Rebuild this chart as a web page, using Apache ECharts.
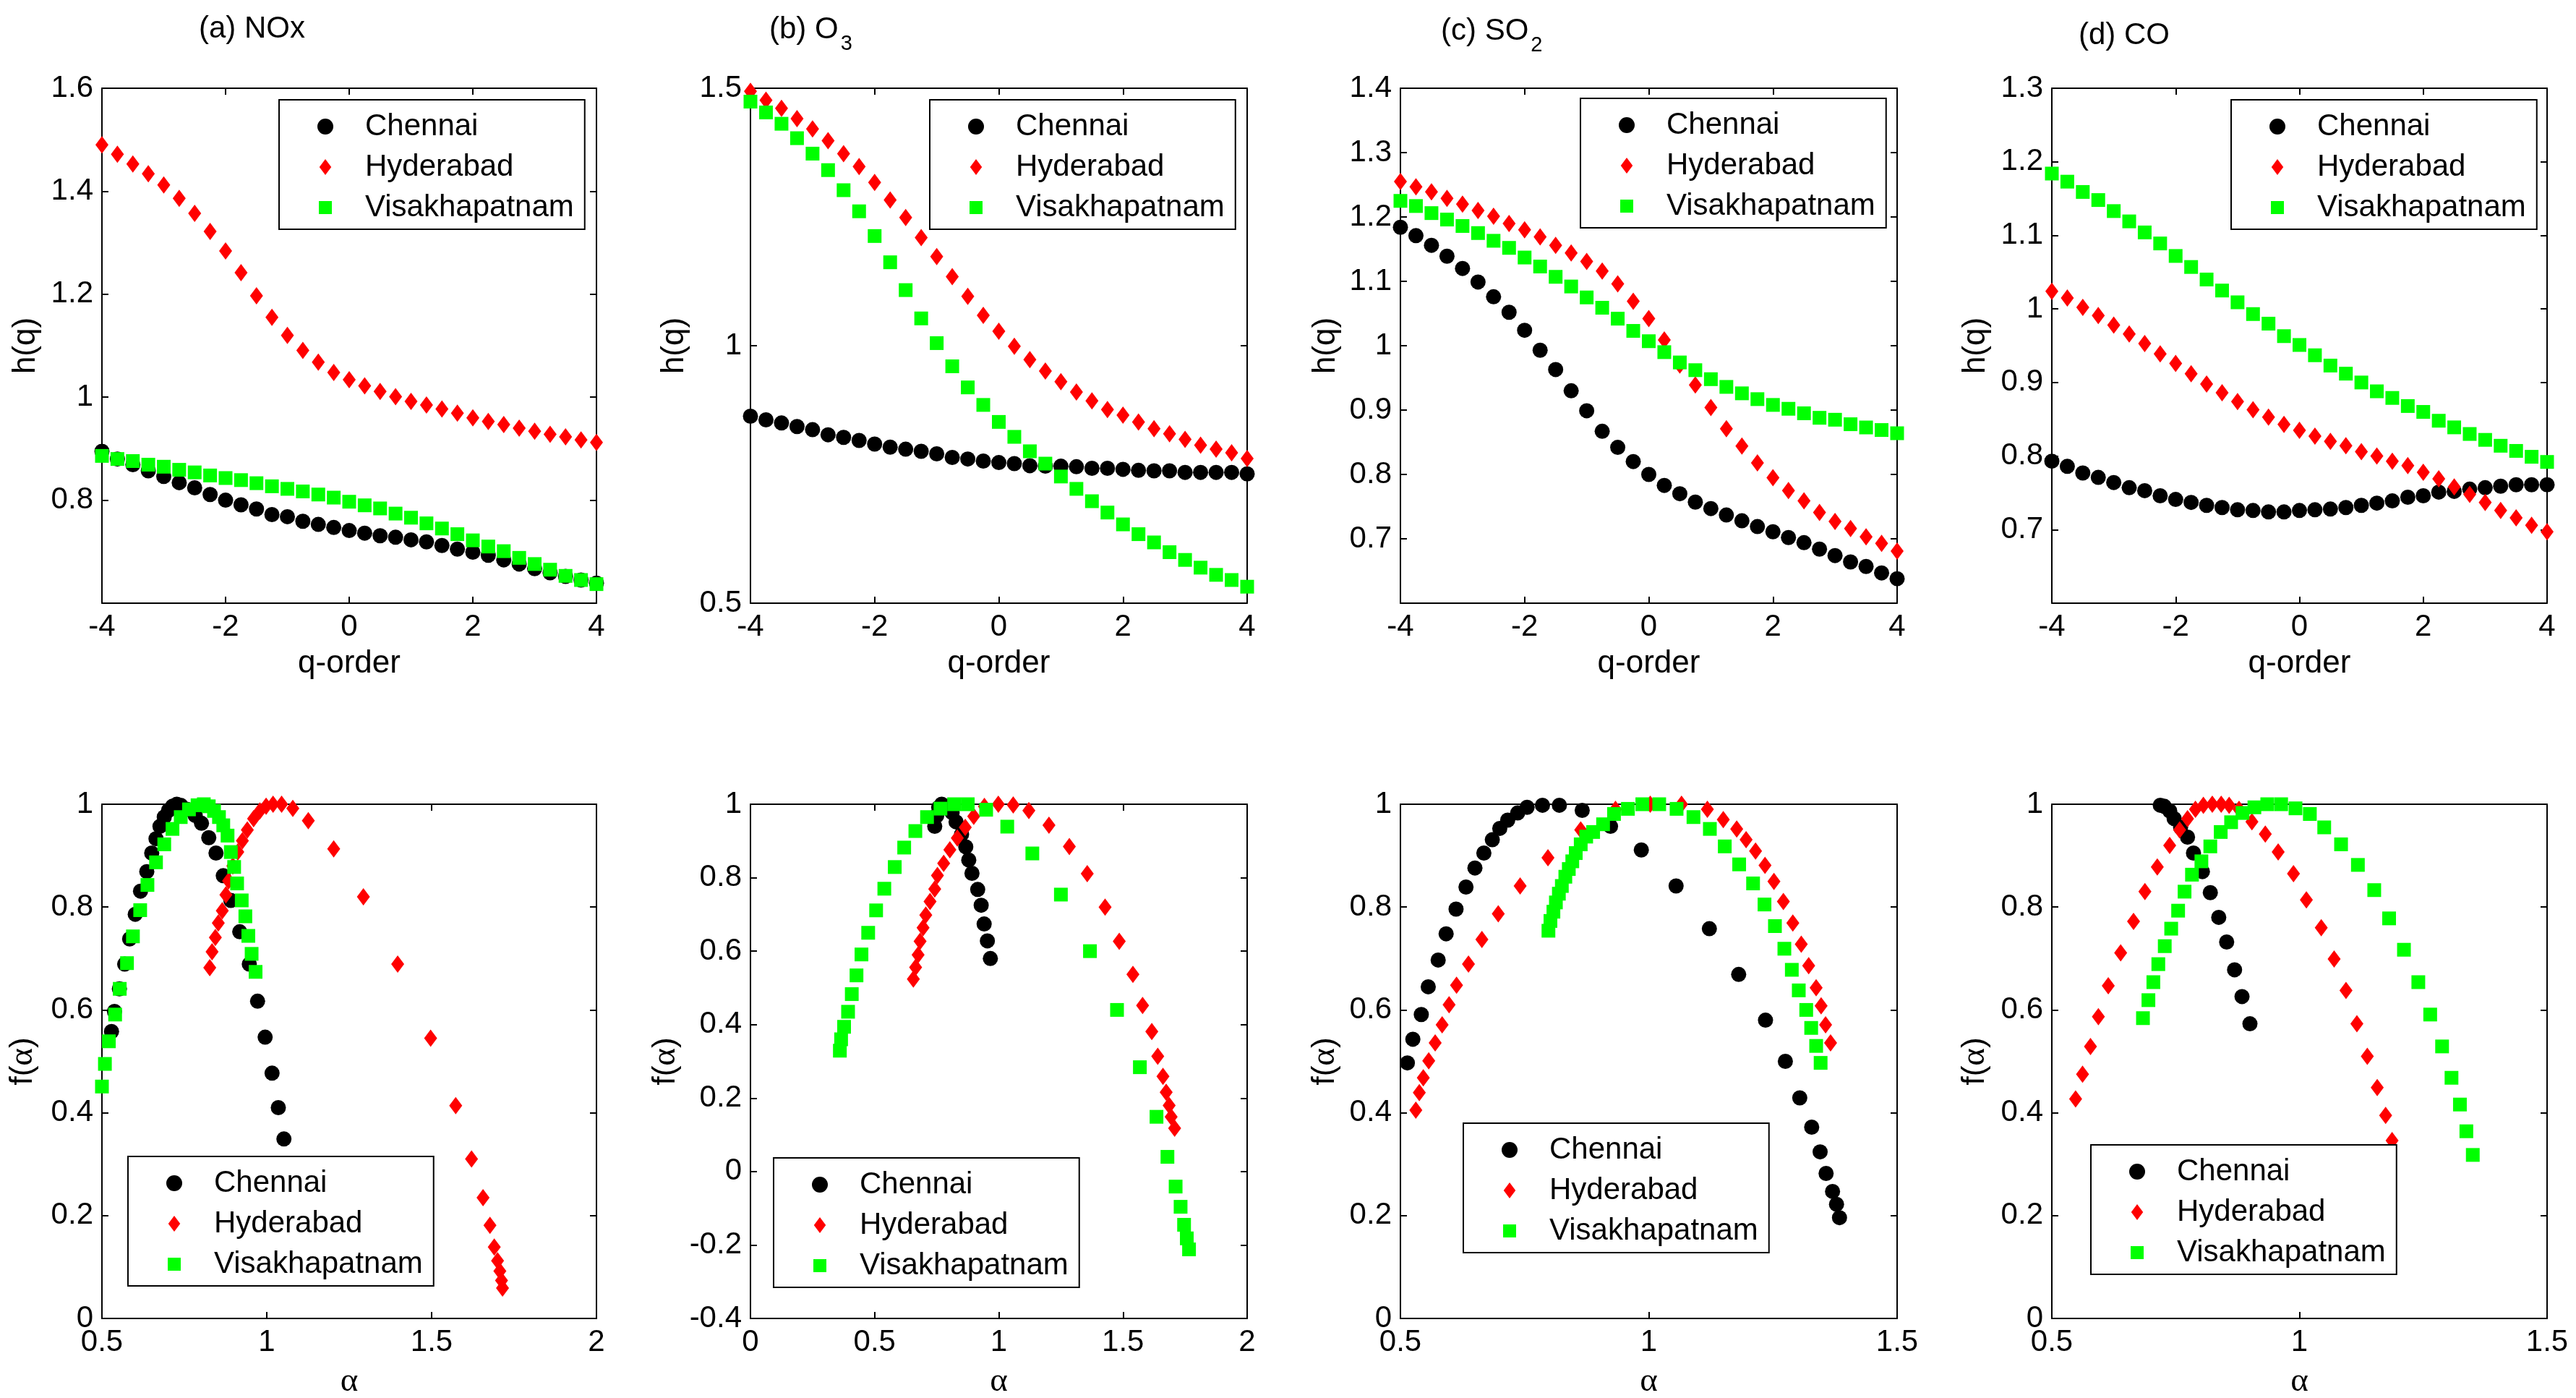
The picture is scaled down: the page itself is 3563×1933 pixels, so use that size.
<!DOCTYPE html>
<html style="height: 100%">
<head>
    <meta charset="utf-8">
    <script src="https://cdn.jsdelivr.net/npm/echarts/dist/echarts.min.js"></script>
</head>
<body style="height: 100%; margin: 0; background: #ffffff">

<div id="container" style="width: 3563px; height: 1933px"></div>

<script>
    // q values of the h(q) panels
    var qOrder = [-4, -3.75, -3.5, -3.25, -3, -2.75, -2.5, -2.25, -2, -1.75, -1.5, -1.25, -1, -0.75, -0.5, -0.25,
        0, 0.25, 0.5, 0.75, 1, 1.25, 1.5, 1.75, 2, 2.25, 2.5, 2.75, 3, 3.25, 3.5, 3.75, 4];
    var cities = ['Chennai', 'Hyderabad', 'Visakhapatnam'];

    // (a) NOx
    var noxHqChennai = [0.895, 0.880, 0.869, 0.857, 0.846, 0.834, 0.824, 0.811, 0.800, 0.791, 0.783, 0.772, 0.768, 0.759, 0.753, 0.747,
        0.741, 0.736, 0.731, 0.728, 0.723, 0.719, 0.712, 0.705, 0.699, 0.693, 0.684, 0.676, 0.667, 0.659, 0.652, 0.645, 0.639];
    var noxHqHyderabad = [1.490, 1.472, 1.453, 1.434, 1.412, 1.386, 1.357, 1.322, 1.284, 1.242, 1.197, 1.155, 1.120, 1.091, 1.068, 1.048,
        1.034, 1.022, 1.011, 1.001, 0.992, 0.985, 0.977, 0.969, 0.960, 0.953, 0.947, 0.940, 0.934, 0.928, 0.923, 0.917, 0.912];
    var noxHqVisakh = [0.886, 0.880, 0.876, 0.869, 0.865, 0.859, 0.854, 0.848, 0.843, 0.839, 0.833, 0.827, 0.822, 0.817, 0.811, 0.805,
        0.797, 0.790, 0.784, 0.774, 0.766, 0.755, 0.745, 0.734, 0.722, 0.710, 0.701, 0.688, 0.676, 0.665, 0.653, 0.645, 0.637];
    var noxAlphaChennai = [0.529, 0.538, 0.553, 0.569, 0.584, 0.601, 0.617, 0.636, 0.651, 0.664, 0.676, 0.689, 0.702, 0.714, 0.727,
        0.739, 0.758, 0.783, 0.802, 0.824, 0.846, 0.868, 0.891, 0.918, 0.947, 0.972, 0.995, 1.016, 1.035, 1.052];
    var noxFChennai = [0.558, 0.597, 0.641, 0.689, 0.738, 0.786, 0.831, 0.869, 0.905, 0.933, 0.957, 0.975, 0.988, 0.996, 1.000,
        0.998, 0.990, 0.978, 0.963, 0.935, 0.905, 0.861, 0.813, 0.752, 0.689, 0.617, 0.547, 0.477, 0.410, 0.349];
    var noxAlphaHyderabad = [0.827, 0.834, 0.844, 0.853, 0.865, 0.876, 0.884, 0.897, 0.912, 0.926, 0.941, 0.960, 0.979, 0.998, 1.019,
        1.045, 1.079, 1.126, 1.203, 1.293, 1.397, 1.497, 1.573, 1.621, 1.656, 1.677, 1.690, 1.700, 1.707, 1.712, 1.715];
    var noxFHyderabad = [0.682, 0.713, 0.741, 0.769, 0.793, 0.824, 0.851, 0.880, 0.907, 0.929, 0.950, 0.972, 0.987, 0.996, 1.000,
        1.000, 0.992, 0.968, 0.913, 0.820, 0.689, 0.545, 0.414, 0.310, 0.235, 0.181, 0.139, 0.112, 0.092, 0.074, 0.059];
    var noxAlphaVisakh = [0.500, 0.509, 0.521, 0.540, 0.554, 0.576, 0.594, 0.616, 0.638, 0.664, 0.689, 0.714, 0.739, 0.764, 0.790,
        0.809, 0.824, 0.840, 0.855, 0.868, 0.881, 0.891, 0.901, 0.910, 0.924, 0.935, 0.944, 0.954, 0.966];
    var noxFVisakh = [0.451, 0.495, 0.539, 0.591, 0.641, 0.691, 0.743, 0.794, 0.843, 0.887, 0.922, 0.952, 0.975, 0.990, 0.998,
        1.000, 0.996, 0.987, 0.975, 0.959, 0.939, 0.907, 0.878, 0.846, 0.813, 0.782, 0.744, 0.709, 0.674];

    // (b) O3
    var o3HqChennai = [0.863, 0.856, 0.850, 0.843, 0.837, 0.827, 0.822, 0.816, 0.809, 0.803, 0.799, 0.795, 0.790, 0.783, 0.780, 0.776,
        0.773, 0.771, 0.767, 0.766, 0.766, 0.765, 0.762, 0.762, 0.760, 0.758, 0.757, 0.757, 0.754, 0.754, 0.754, 0.754, 0.751];
    var o3HqHyderabad = [1.494, 1.477, 1.461, 1.441, 1.421, 1.398, 1.373, 1.348, 1.317, 1.283, 1.249, 1.210, 1.173, 1.134, 1.096, 1.059,
        1.028, 0.999, 0.973, 0.951, 0.930, 0.910, 0.893, 0.876, 0.865, 0.852, 0.839, 0.829, 0.818, 0.807, 0.799, 0.792, 0.781];
    var o3HqVisakh = [1.474, 1.453, 1.431, 1.403, 1.373, 1.341, 1.302, 1.261, 1.213, 1.162, 1.108, 1.053, 1.005, 0.960, 0.919, 0.885,
        0.852, 0.823, 0.795, 0.771, 0.746, 0.722, 0.698, 0.676, 0.653, 0.634, 0.618, 0.599, 0.584, 0.569, 0.555, 0.545, 0.532];
    var o3AlphaChennai = [0.742, 0.750, 0.758, 0.770, 0.790, 0.812, 0.828, 0.850, 0.867, 0.879, 0.892, 0.915, 0.929, 0.941, 0.954, 0.966];
    var o3FChennai = [0.940, 0.969, 0.991, 1.000, 0.994, 0.977, 0.952, 0.918, 0.884, 0.848, 0.812, 0.768, 0.725, 0.674, 0.628, 0.580];
    var o3AlphaHyderabad = [0.656, 0.665, 0.675, 0.683, 0.695, 0.706, 0.723, 0.742, 0.753, 0.778, 0.803, 0.833, 0.865, 0.899, 0.942, 0.998,
        1.058, 1.121, 1.202, 1.284, 1.356, 1.428, 1.485, 1.540, 1.579, 1.616, 1.640, 1.661, 1.674, 1.686, 1.694, 1.708];
    var o3FHyderabad = [0.524, 0.556, 0.590, 0.627, 0.664, 0.698, 0.735, 0.769, 0.806, 0.839, 0.876, 0.908, 0.937, 0.967, 0.994, 1.000,
        0.998, 0.983, 0.943, 0.885, 0.811, 0.720, 0.627, 0.537, 0.452, 0.381, 0.314, 0.259, 0.216, 0.180, 0.149, 0.118];
    var o3AlphaVisakh = [0.360, 0.365, 0.377, 0.393, 0.408, 0.427, 0.447, 0.474, 0.506, 0.539, 0.581, 0.619, 0.664, 0.711, 0.765, 0.820,
        0.875, 0.949, 1.034, 1.135, 1.250, 1.367, 1.476, 1.568, 1.635, 1.679, 1.712, 1.732, 1.746, 1.757, 1.766];
    var o3FVisakh = [0.329, 0.360, 0.394, 0.435, 0.483, 0.534, 0.591, 0.650, 0.711, 0.770, 0.829, 0.882, 0.927, 0.965, 0.988, 1.000,
        1.000, 0.985, 0.939, 0.866, 0.754, 0.600, 0.440, 0.284, 0.149, 0.040, -0.041, -0.096, -0.145, -0.182, -0.212];

    // (c) SO2
    var so2HqChennai = [1.184, 1.171, 1.156, 1.139, 1.120, 1.099, 1.076, 1.052, 1.024, 0.993, 0.963, 0.930, 0.899, 0.867, 0.842, 0.820,
        0.800, 0.783, 0.770, 0.757, 0.747, 0.737, 0.728, 0.719, 0.711, 0.702, 0.694, 0.684, 0.674, 0.664, 0.657, 0.647, 0.638];
    var so2HqHyderabad = [1.255, 1.247, 1.239, 1.229, 1.220, 1.210, 1.201, 1.190, 1.180, 1.169, 1.156, 1.144, 1.131, 1.116, 1.096, 1.069,
        1.042, 1.009, 0.970, 0.939, 0.904, 0.871, 0.844, 0.818, 0.795, 0.775, 0.759, 0.741, 0.727, 0.716, 0.703, 0.693, 0.681];
    var so2HqVisakh = [1.225, 1.217, 1.206, 1.196, 1.186, 1.175, 1.163, 1.152, 1.137, 1.123, 1.107, 1.092, 1.075, 1.059, 1.042, 1.023,
        1.007, 0.990, 0.974, 0.962, 0.948, 0.936, 0.926, 0.917, 0.908, 0.902, 0.895, 0.888, 0.885, 0.878, 0.873, 0.869, 0.864];
    var so2AlphaChennai = [0.514, 0.525, 0.542, 0.556, 0.576, 0.592, 0.612, 0.632, 0.650, 0.668, 0.685, 0.700, 0.716, 0.736, 0.755, 0.786,
        0.820, 0.866, 0.923, 0.985, 1.055, 1.122, 1.181, 1.235, 1.275, 1.304, 1.328, 1.345, 1.357, 1.370, 1.378, 1.384];
    var so2FChennai = [0.497, 0.543, 0.591, 0.645, 0.697, 0.748, 0.796, 0.839, 0.876, 0.905, 0.931, 0.953, 0.969, 0.983, 0.994, 0.998,
        0.998, 0.988, 0.957, 0.911, 0.841, 0.758, 0.669, 0.580, 0.500, 0.429, 0.372, 0.324, 0.282, 0.247, 0.222, 0.196];
    var so2AlphaHyderabad = [0.531, 0.538, 0.546, 0.557, 0.570, 0.584, 0.598, 0.613, 0.637, 0.664, 0.697, 0.741, 0.797, 0.863, 0.933, 1.003,
        1.066, 1.118, 1.150, 1.177, 1.196, 1.215, 1.234, 1.252, 1.271, 1.290, 1.307, 1.322, 1.337, 1.347, 1.356, 1.366];
    var so2FHyderabad = [0.405, 0.439, 0.468, 0.501, 0.536, 0.571, 0.610, 0.648, 0.689, 0.737, 0.787, 0.841, 0.896, 0.950, 0.990, 1.000,
        1.000, 0.990, 0.970, 0.952, 0.931, 0.909, 0.881, 0.850, 0.811, 0.769, 0.728, 0.686, 0.643, 0.608, 0.571, 0.536];
    var so2AlphaVisakh = [0.798, 0.802, 0.808, 0.813, 0.819, 0.825, 0.832, 0.839, 0.846, 0.853, 0.863, 0.874, 0.888, 0.908, 0.930, 0.958,
        0.987, 1.021, 1.056, 1.090, 1.123, 1.153, 1.182, 1.210, 1.233, 1.254, 1.273, 1.288, 1.302, 1.317, 1.327, 1.337, 1.346];
    var so2FVisakh = [0.754, 0.773, 0.791, 0.809, 0.826, 0.841, 0.859, 0.874, 0.889, 0.905, 0.922, 0.937, 0.946, 0.961, 0.981, 0.991,
        1.000, 1.000, 0.991, 0.975, 0.952, 0.918, 0.883, 0.846, 0.805, 0.763, 0.719, 0.678, 0.638, 0.600, 0.565, 0.530, 0.497];

    // (d) CO
    var coHqChennai = [0.793, 0.786, 0.777, 0.771, 0.764, 0.757, 0.753, 0.746, 0.741, 0.737, 0.733, 0.730, 0.727, 0.726, 0.724, 0.724,
        0.726, 0.727, 0.728, 0.730, 0.733, 0.736, 0.739, 0.744, 0.746, 0.751, 0.752, 0.755, 0.757, 0.759, 0.761, 0.761, 0.761];
    var coHqHyderabad = [1.024, 1.015, 1.002, 0.991, 0.978, 0.966, 0.953, 0.939, 0.926, 0.912, 0.898, 0.886, 0.874, 0.863, 0.853, 0.843,
        0.835, 0.827, 0.820, 0.814, 0.806, 0.800, 0.793, 0.787, 0.778, 0.769, 0.758, 0.748, 0.737, 0.726, 0.716, 0.706, 0.697];
    var coHqVisakh = [1.184, 1.173, 1.159, 1.148, 1.133, 1.119, 1.104, 1.089, 1.072, 1.057, 1.040, 1.025, 1.009, 0.993, 0.980, 0.963,
        0.951, 0.937, 0.923, 0.912, 0.900, 0.888, 0.879, 0.868, 0.860, 0.848, 0.839, 0.830, 0.822, 0.814, 0.807, 0.799, 0.792];
    var coAlphaChennai = [0.719, 0.727, 0.738, 0.747, 0.760, 0.774, 0.786, 0.804, 0.820, 0.837, 0.853, 0.869, 0.884, 0.900];
    var coFChennai = [0.998, 0.996, 0.987, 0.972, 0.955, 0.936, 0.905, 0.869, 0.828, 0.780, 0.732, 0.678, 0.626, 0.573];
    var coAlphaHyderabad = [0.548, 0.562, 0.578, 0.594, 0.614, 0.639, 0.665, 0.688, 0.713, 0.738, 0.758, 0.774, 0.790, 0.806, 0.824, 0.842,
        0.858, 0.878, 0.904, 0.931, 0.957, 0.988, 1.014, 1.044, 1.070, 1.094, 1.116, 1.137, 1.157, 1.174, 1.187];
    var coFHyderabad = [0.427, 0.475, 0.529, 0.587, 0.647, 0.711, 0.772, 0.830, 0.878, 0.920, 0.950, 0.972, 0.990, 0.998, 1.000, 1.000,
        0.998, 0.990, 0.966, 0.942, 0.907, 0.865, 0.814, 0.760, 0.699, 0.638, 0.573, 0.510, 0.449, 0.395, 0.346];
    var coAlphaVisakh = [0.684, 0.695, 0.705, 0.715, 0.728, 0.741, 0.755, 0.768, 0.783, 0.802, 0.820, 0.841, 0.862, 0.885, 0.909, 0.935,
        0.963, 0.992, 1.021, 1.050, 1.084, 1.118, 1.151, 1.181, 1.211, 1.240, 1.264, 1.288, 1.307, 1.324, 1.337, 1.350];
    var coFVisakh = [0.584, 0.619, 0.654, 0.689, 0.724, 0.758, 0.793, 0.830, 0.863, 0.889, 0.918, 0.946, 0.965, 0.983, 0.994, 1.000,
        1.000, 0.992, 0.981, 0.955, 0.922, 0.882, 0.833, 0.778, 0.717, 0.654, 0.591, 0.529, 0.468, 0.416, 0.364, 0.318];

    // styles
    var font = 'Liberation Sans, Arial, Helvetica, sans-serif';
    var greek = 'Liberation Serif, Times New Roman, serif';
    var cityColors = ['#000000', '#ff0000', '#00ff00'];
    var citySymbols = ['circle', 'diamond', 'rect'];
    var citySizes = [21, [18, 24], 19];
    var legendIcons = ['circle', 'path://M9,0L18,12L9,24L0,12Z', 'path://M0,0M22,22M2,2H20V2L20,20H2Z'];

    function pairs(xs, ys) {
        return xs.map(function (x, i) {
            return [x, ys[i]];
        });
    }

    var colLeft = [141, 1038, 1937, 2838];
    var colWidth = [684, 687, 687, 685];
    var rowTop = [122, 1112];
    var rowHeight = [712, 711];

    var panels = [
        {col: 0, row: 0, x: [-4, 4, 2], y: [0.6, 1.6, 0.2], hideMinY: true, yGap: 83, legend: [386, 138],
            data: [pairs(qOrder, noxHqChennai), pairs(qOrder, noxHqHyderabad), pairs(qOrder, noxHqVisakh)]},
        {col: 1, row: 0, x: [-4, 4, 2], y: [0.5, 1.5, 0.5], hideMinY: false, yGap: 83, legend: [1286, 138],
            data: [pairs(qOrder, o3HqChennai), pairs(qOrder, o3HqHyderabad), pairs(qOrder, o3HqVisakh)]},
        {col: 2, row: 0, x: [-4, 4, 2], y: [0.6, 1.4, 0.1], hideMinY: true, yGap: 81, legend: [2186, 136],
            data: [pairs(qOrder, so2HqChennai), pairs(qOrder, so2HqHyderabad), pairs(qOrder, so2HqVisakh)]},
        {col: 3, row: 0, x: [-4, 4, 2], y: [0.6, 1.3, 0.1], hideMinY: true, yGap: 83, legend: [3086, 138],
            data: [pairs(qOrder, coHqChennai), pairs(qOrder, coHqHyderabad), pairs(qOrder, coHqVisakh)]},
        {col: 0, row: 1, x: [0.5, 2, 0.5], y: [0, 1, 0.2], hideMinY: false, yGap: 86, legend: [177, 1599],
            data: [pairs(noxAlphaChennai, noxFChennai), pairs(noxAlphaHyderabad, noxFHyderabad), pairs(noxAlphaVisakh, noxFVisakh)]},
        {col: 1, row: 1, x: [0, 2, 0.5], y: [-0.4, 1, 0.2], hideMinY: false, yGap: 94, legend: [1070, 1601],
            data: [pairs(o3AlphaChennai, o3FChennai), pairs(o3AlphaHyderabad, o3FHyderabad), pairs(o3AlphaVisakh, o3FVisakh)]},
        {col: 2, row: 1, x: [0.5, 1.5, 0.5], y: [0, 1, 0.2], hideMinY: false, yGap: 81, legend: [2024, 1553],
            data: [pairs(so2AlphaChennai, so2FChennai), pairs(so2AlphaHyderabad, so2FHyderabad), pairs(so2AlphaVisakh, so2FVisakh)]},
        {col: 3, row: 1, x: [0.5, 1.5, 0.5], y: [0, 1, 0.2], hideMinY: false, yGap: 83, legend: [2892, 1583],
            data: [pairs(coAlphaChennai, coFChennai), pairs(coAlphaHyderabad, coFHyderabad), pairs(coAlphaVisakh, coFVisakh)]}
    ];

    var axisLine = {onZero: false, lineStyle: {color: '#000', width: 2}};
    var axisTick = {inside: true, length: 9, lineStyle: {color: '#000', width: 2}};
    var nameStyle = {
        fontSize: 44, fontFamily: font, color: '#000',
        rich: {n: {fontSize: 44, fontFamily: font, color: '#000'}, g: {fontSize: 47, fontFamily: greek, color: '#000'}}
    };

    var grids = [], xAxes = [], yAxes = [], series = [], legends = [];

    panels.forEach(function (p, i) {
        grids.push({
            left: colLeft[p.col], top: rowTop[p.row], width: colWidth[p.col], height: rowHeight[p.row],
            containLabel: false, outerBoundsMode: 'none'
        });
        var xName = p.row === 0 ? '{n|q-order}' : '{g|α}';
        var yName = p.row === 0 ? '{n|h(q)}' : '{n|f(}{g|α}{n|)}';
        xAxes.push({
            type: 'value', gridIndex: i, position: 'bottom', min: p.x[0], max: p.x[1], interval: p.x[2],
            axisLine: axisLine, axisTick: axisTick, splitLine: {show: false},
            axisLabel: {color: '#000', fontSize: 42, fontFamily: font, margin: 12},
            name: xName, nameLocation: 'middle', nameGap: p.row === 0 ? 62 : 64, nameTextStyle: nameStyle
        });
        xAxes.push({
            type: 'value', gridIndex: i, position: 'top', min: p.x[0], max: p.x[1], interval: p.x[2],
            axisLine: axisLine, axisTick: axisTick, splitLine: {show: false}, axisLabel: {show: false}
        });
        yAxes.push({
            type: 'value', gridIndex: i, position: 'left', min: p.y[0], max: p.y[1], interval: p.y[2],
            axisLine: axisLine, axisTick: axisTick, splitLine: {show: false},
            axisLabel: {color: '#000', fontSize: 42, fontFamily: font, margin: 12, showMinLabel: !p.hideMinY},
            name: yName, nameLocation: 'middle', nameGap: p.yGap, nameTextStyle: nameStyle
        });
        yAxes.push({
            type: 'value', gridIndex: i, position: 'right', min: p.y[0], max: p.y[1], interval: p.y[2],
            axisLine: axisLine, axisTick: axisTick, splitLine: {show: false}, axisLabel: {show: false}
        });
        p.data.forEach(function (d, k) {
            series.push({
                name: cities[k], type: 'scatter', xAxisIndex: i * 2, yAxisIndex: i * 2,
                symbol: citySymbols[k], symbolSize: citySizes[k], clip: false, silent: true,
                itemStyle: {color: cityColors[k], opacity: 1},
                emphasis: {disabled: true},
                data: d
            });
        });
        legends.push({
            left: p.legend[0], top: p.legend[1], orient: 'vertical', selectedMode: false,
            data: cities.map(function (c, k) {
                return {name: c, icon: legendIcons[k]};
            }),
            itemWidth: 100, itemHeight: 22, itemGap: 8, padding: [13, 15, 6, 53],
            backgroundColor: '#ffffff', borderColor: '#000', borderWidth: 2, borderRadius: 0,
            textStyle: {fontSize: 42, fontFamily: font, color: '#000', lineHeight: 48}
        });
    });

    var titleRich = {
        t: {fontSize: 42, fontFamily: font, fontWeight: 'normal', color: '#000', lineHeight: 42, verticalAlign: 'top'},
        s: {fontSize: 29, fontFamily: font, fontWeight: 'normal', color: '#000', lineHeight: 29, verticalAlign: 'top', padding: [26, 0, 0, 3]}
    };
    var titles = [
        {text: '{t|(a) NOx}', left: 275, top: 19},
        {text: '{t|(b) O}{s|3}', left: 1064, top: 20},
        {text: '{t|(c) SO}{s|2}', left: 1993, top: 22},
        {text: '{t|(d) CO}', left: 2875, top: 28}
    ].map(function (t) {
        t.padding = 0;
        t.textStyle = {fontWeight: 'normal', rich: titleRich};
        return t;
    });

    var dom = document.getElementById("container");
    var myChart = echarts.init(dom);
    var option = {
        backgroundColor: '#ffffff',
        animation: false,
        title: titles,
        legend: legends,
        grid: grids,
        xAxis: xAxes,
        yAxis: yAxes,
        series: series
    };
    myChart.setOption(option, true);
</script>
</body>
</html>
